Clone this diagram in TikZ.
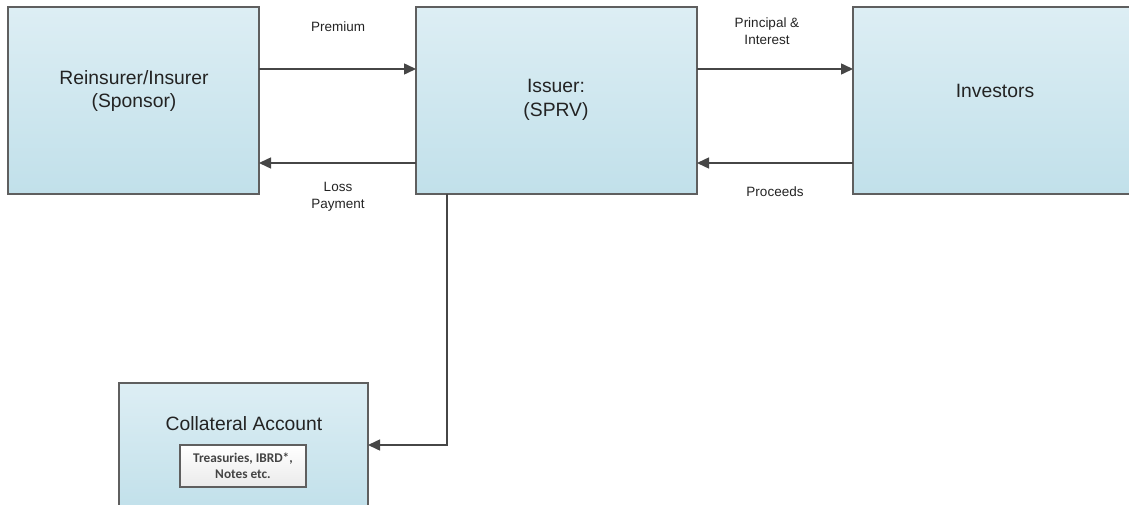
\documentclass[tikz,border=0pt]{standalone}
\usepackage{fontspec}
\setmainfont{Liberation Sans}
\newfontfamily\calib{Carlito}
\usetikzlibrary{arrows.meta}
\definecolor{boxtop}{RGB}{221,238,244}
\definecolor{boxbot}{RGB}{193,224,234}
\definecolor{edgegray}{RGB}{95,95,95}
\definecolor{arrgray}{RGB}{70,70,70}
\definecolor{txt}{RGB}{35,35,35}
\tikzset{
  bigbox/.style={draw=edgegray, line width=1.3pt, top color=boxtop, bottom color=boxbot},
  smallbox/.style={draw=edgegray, line width=1.1pt, top color=white, bottom color=black!8},
  flow/.style={draw=arrgray, line width=1.5pt, -{Triangle[length=12pt,width=11pt]}},
  bigtext/.style={font=\fontsize{19.3}{23.5}\selectfont, text=txt, align=center, inner sep=0pt},
  lbl/.style={font=\fontsize{13.5}{17}\selectfont, text=txt, align=center, inner sep=0pt},
  tiny/.style={font=\calib\bfseries\fontsize{13.3}{15.5}\selectfont, text=txt!85, align=center, inner sep=0pt}
}
\begin{document}
\begin{tikzpicture}[x=1pt,y=-1pt]
\useasboundingbox (0,0) rectangle (1129,505);
% boxes
\path[bigbox] (8,7) rectangle (259,194);
\coordinate (spE1) at (259,69);
\coordinate (spE2) at (259,163);
\path[bigbox] (416,7) rectangle (697,194);
\coordinate (isW1) at (416,69);
\coordinate (isW2) at (416,163);
\coordinate (isE1) at (697,69);
\coordinate (isE2) at (697,163);
\coordinate (isS) at (447,194);
\path[bigbox] (853,7) rectangle (1140,194);
\coordinate (inW1) at (853,69);
\coordinate (inW2) at (853,163);
\path[bigbox] (119,383) rectangle (368,512);
\coordinate (coE) at (368,445);
\coordinate (bend) at (447,445);
\path[smallbox] (180,445) rectangle (306,487);
% texts
\node[bigtext] (sponsor) at (134,91) {Reinsurer/Insurer\\(Sponsor)};
\node[bigtext] (issuer) at (556,100) {Issuer:\\(SPRV)};
\node[bigtext] (investors) at (995,91) {Investors};
\node[bigtext] (collateral) at (244,424) {Collateral Account};
\node[tiny] (assets) at (243,466) {Treasuries, IBRD*,\\Notes etc.};
% labels
\node[lbl] (premium) at (338,27) {Premium};
\node[lbl] (loss) at (338,197) {Loss\\Payment};
\node[lbl] (principal) at (767,31) {Principal \&\\Interest};
\node[lbl] (proceeds) at (775,192) {Proceeds};
% connectors
\draw[flow] (spE1) -- (isW1);
\draw[flow] (isW2) -- (spE2);
\draw[flow] (isE1) -- (inW1);
\draw[flow] (inW2) -- (isE2);
\draw[flow] (isS) -- (bend) -- (coE);
\end{tikzpicture}
\end{document}
